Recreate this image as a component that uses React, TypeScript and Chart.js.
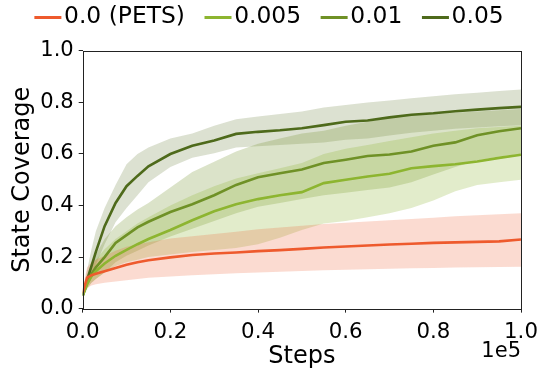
import React, { useEffect, useRef } from "react";
import { Chart, registerables } from "chart.js";

Chart.register(...registerables);

const STEPS = [0, 1000, 2000, 3000, 5000, 7500, 10000, 12500, 15000, 20000, 25000, 30000, 35000, 40000, 45000, 50000, 55000, 60000, 65000, 70000, 75000, 80000, 85000, 90000, 95000, 100000];

const SERIES_LABELS = ["0.0 (PETS)", "0.005", "0.01", "0.05"];
const SERIES_COLORS = ["#EE5A2D", "#8DB530", "#6F9126", "#4E6A1B"];
const BAND_COLORS = ["rgba(238,90,45,0.22)", "rgba(141,181,48,0.25)", "rgba(111,145,38,0.25)", "rgba(78,106,27,0.2)"];

const PETS_MEAN = [0.06, 0.12, 0.13, 0.135, 0.145, 0.158, 0.17, 0.18, 0.188, 0.199, 0.208, 0.214, 0.218, 0.223, 0.227, 0.232, 0.237, 0.241, 0.245, 0.249, 0.252, 0.255, 0.257, 0.259, 0.261, 0.268];
const PETS_UPPER = [0.08, 0.16, 0.18, 0.19, 0.205, 0.225, 0.24, 0.25, 0.258, 0.272, 0.281, 0.29, 0.298, 0.308, 0.315, 0.322, 0.328, 0.333, 0.338, 0.343, 0.348, 0.353, 0.358, 0.362, 0.366, 0.37];
const PETS_LOWER = [0.05, 0.08, 0.09, 0.095, 0.1, 0.105, 0.11, 0.115, 0.12, 0.125, 0.13, 0.133, 0.137, 0.14, 0.143, 0.146, 0.149, 0.151, 0.153, 0.155, 0.157, 0.158, 0.16, 0.161, 0.162, 0.163];

const B005_MEAN = [0.05, 0.095, 0.125, 0.145, 0.175, 0.205, 0.228, 0.25, 0.27, 0.305, 0.343, 0.378, 0.405, 0.425, 0.44, 0.452, 0.487, 0.5, 0.513, 0.523, 0.545, 0.553, 0.56, 0.571, 0.585, 0.597];
const B005_UPPER = [0.06, 0.12, 0.16, 0.19, 0.23, 0.27, 0.3, 0.33, 0.355, 0.4, 0.44, 0.475, 0.505, 0.525, 0.545, 0.565, 0.6, 0.62, 0.635, 0.65, 0.665, 0.68, 0.69, 0.7, 0.705, 0.71];
const B005_LOWER = [0.04, 0.075, 0.1, 0.115, 0.14, 0.165, 0.18, 0.19, 0.2, 0.21, 0.22, 0.228, 0.235, 0.25, 0.275, 0.305, 0.33, 0.34, 0.355, 0.37, 0.39, 0.42, 0.455, 0.48, 0.49, 0.5];

const B01_MEAN = [0.05, 0.1, 0.135, 0.16, 0.2, 0.255, 0.285, 0.315, 0.337, 0.375, 0.405, 0.44, 0.48, 0.51, 0.525, 0.54, 0.565, 0.578, 0.592, 0.598, 0.61, 0.632, 0.645, 0.673, 0.688, 0.7];
const B01_UPPER = [0.06, 0.13, 0.18, 0.21, 0.27, 0.32, 0.355, 0.385, 0.41, 0.47, 0.53, 0.57, 0.61, 0.64, 0.66, 0.68, 0.69, 0.71, 0.725, 0.74, 0.75, 0.755, 0.76, 0.765, 0.77, 0.775];
const B01_LOWER = [0.04, 0.08, 0.1, 0.115, 0.14, 0.18, 0.205, 0.225, 0.245, 0.28, 0.31, 0.34, 0.37, 0.395, 0.41, 0.425, 0.44, 0.45, 0.46, 0.47, 0.49, 0.52, 0.55, 0.575, 0.59, 0.6];

const B05_MEAN = [0.05, 0.11, 0.165, 0.22, 0.32, 0.41, 0.475, 0.515, 0.552, 0.6, 0.632, 0.652, 0.678, 0.686, 0.692, 0.7, 0.712, 0.725, 0.73, 0.742, 0.752, 0.758, 0.766, 0.772, 0.778, 0.783];
const B05_UPPER = [0.06, 0.15, 0.23, 0.3, 0.39, 0.48, 0.56, 0.6, 0.625, 0.66, 0.68, 0.71, 0.735, 0.745, 0.755, 0.765, 0.78, 0.79, 0.8, 0.808, 0.816, 0.824, 0.832, 0.838, 0.844, 0.85];
const B05_LOWER = [0.04, 0.08, 0.12, 0.17, 0.25, 0.335, 0.39, 0.44, 0.49, 0.55, 0.585, 0.603, 0.625, 0.63, 0.635, 0.64, 0.645, 0.655, 0.66, 0.672, 0.682, 0.69, 0.698, 0.703, 0.708, 0.712];

const MEANS = [PETS_MEAN, B005_MEAN, B01_MEAN, B05_MEAN];
const UPPERS = [PETS_UPPER, B005_UPPER, B01_UPPER, B05_UPPER];
const LOWERS = [PETS_LOWER, B005_LOWER, B01_LOWER, B05_LOWER];

const X_TICK_SCALE = 1e5;
const FONT = "DejaVu Sans";

const toPoints = (ys: number[]) => ys.map((y, i) => ({ x: STEPS[i], y }));

// legend marker: a 27px line, offset so it starts at the item's left edge
const makeLegendLine = (color: string) => {
  const c = document.createElement("canvas");
  c.width = 54;
  c.height = 3;
  const g = c.getContext("2d");
  if (g) {
    g.fillStyle = color;
    g.fillRect(18, 0, 27, 3);
  }
  return c;
};

const framePlugin = {
  id: "frame",
  afterDraw(chart: any) {
    const { ctx, chartArea } = chart;
    ctx.save();
    ctx.strokeStyle = "#222";
    ctx.lineWidth = 1;
    ctx.strokeRect(Math.round(chartArea.left) + 0.5, Math.round(chartArea.top) + 0.5, Math.round(chartArea.right - chartArea.left), Math.round(chartArea.bottom - chartArea.top));
    ctx.font = `21px '${FONT}'`;
    ctx.fillStyle = "#000";
    ctx.textAlign = "right";
    ctx.textBaseline = "middle";
    ctx.fillText("1e5", chartArea.right, chartArea.bottom + 43);
    ctx.restore();
  },
};

export default function App() {
  const ref = useRef<HTMLCanvasElement | null>(null);
  useEffect(() => {
    if (!ref.current) return;
    const markers = SERIES_COLORS.map(makeLegendLine);
    const lineSets = MEANS.map((m, i) => ({
      label: SERIES_LABELS[i],
      data: toPoints(m),
      borderColor: SERIES_COLORS[i],
      backgroundColor: SERIES_COLORS[i],
      borderWidth: 2.6,
      pointRadius: 0,
      fill: false,
      tension: 0,
      order: 0,
    }));
    const bandSets: any[] = [];
    UPPERS.forEach((u, i) => {
      bandSets.push({
        label: SERIES_LABELS[i] + " upper",
        data: toPoints(u),
        borderWidth: 0,
        borderColor: "rgba(0,0,0,0)",
        backgroundColor: BAND_COLORS[i],
        pointRadius: 0,
        fill: "+1",
        tension: 0,
        order: 1,
      });
      bandSets.push({
        label: SERIES_LABELS[i] + " lower",
        data: toPoints(LOWERS[i]),
        borderWidth: 0,
        borderColor: "rgba(0,0,0,0)",
        backgroundColor: BAND_COLORS[i],
        pointRadius: 0,
        fill: false,
        tension: 0,
        order: 1,
      });
    });
    const chart = new Chart(ref.current, {
      type: "line",
      data: { datasets: [...lineSets, ...bandSets] },
      plugins: [framePlugin],
      options: {
        animation: false,
        responsive: false,
        layout: { padding: { top: -14, left: 0, right: 0, bottom: 0 } },
        plugins: {
          tooltip: { enabled: false },
          legend: {
            display: true,
            position: "top",
            labels: {
              font: { family: FONT, size: 23.4 },
              color: "#000",
              usePointStyle: true,
              pointStyleWidth: 18,
              boxWidth: 18,
              boxHeight: 3,
              padding: 19.5,
              generateLabels: (c: any) =>
                c.data.datasets.slice(0, 4).map((ds: any, i: number) => ({
                  text: ds.label,
                  fillStyle: ds.borderColor,
                  strokeStyle: ds.borderColor,
                  lineWidth: 0,
                  pointStyle: markers[i],
                  hidden: false,
                  datasetIndex: i,
                  fontColor: "#000",
                })),
            },
          },
        },
        scales: {
          x: {
            type: "linear",
            min: 0,
            max: 100000,
            border: { display: false },
            grid: { display: true, drawOnChartArea: false, drawTicks: true, tickLength: 4, color: "#222" },
            ticks: {
              stepSize: 20000,
              padding: 7,
              color: "#000",
              font: { family: FONT, size: 21.3 },
              maxRotation: 0,
              callback: (v: any) => (Number(v) / X_TICK_SCALE).toFixed(1),
            },
            title: { display: true, text: "Steps", color: "#000", font: { family: FONT, size: 24 }, padding: { top: -10, bottom: 0 } },
            afterFit: (s: any) => {
              s.paddingRight = 17;
            },
          },
          xTop: {
            type: "linear",
            axis: "x",
            position: "top",
            display: true,
            min: 0,
            max: 1,
            border: { display: false },
            grid: { display: false },
            ticks: { display: false },
            afterFit: (s: any) => {
              s.height = 12;
            },
          },
          y: {
            min: 0,
            max: 1,
            border: { display: false },
            grid: { display: true, drawOnChartArea: false, drawTicks: true, tickLength: 4, color: "#222" },
            ticks: {
              stepSize: 0.2,
              padding: 5,
              color: "#000",
              font: { family: FONT, size: 21 },
              callback: (v: any) => Number(v).toFixed(1),
            },
            title: { display: true, text: "State Coverage", color: "#000", font: { family: FONT, size: 24 }, padding: { top: 8, bottom: -1.5 } },
          },
        },
      },
    });
    return () => chart.destroy();
  }, []);
  return (
    <div style={{ position: "absolute", left: 0, top: 0, width: 538, height: 371, background: "#fff" }}>
      <canvas ref={ref} width={538} height={371} style={{ display: "block" }} />
    </div>
  );
}
